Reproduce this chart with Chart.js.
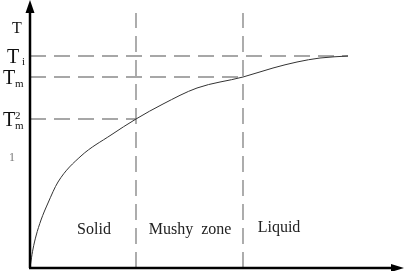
<!DOCTYPE html>
<html>
<head>
<meta charset="utf-8">
<script src="https://cdn.jsdelivr.net/npm/chart.js@4"></script>
<style>
  html, body { margin: 0; padding: 0; background: #fff; }
  canvas { display: block; }
</style>
</head>
<body>
<canvas id="c" width="405" height="271"></canvas>
<script>
// temperature curve (distance from left, temperature)
const curveX = [0, 1, 3, 6, 11, 18, 28, 51, 81, 106, 133, 167, 213, 243, 267, 290, 318];
const curveY = [0, 7, 19, 32, 48, 65, 86, 112, 133, 149, 164, 180, 191, 200, 206, 210, 212];

// temperature levels and where their dashed lines stop
const levelNames = ['Ti', 'Tm', 'T2m'];
const levelValues = [212, 191, 149];
const levelEnds = [318, 213, 106];

// zone boundaries and zone names
const boundaries = [106, 213];
const boundaryTop = 255;
const zoneNames = ['Solid', 'Mushy  zone', 'Liquid'];
const zoneCenters = [64, 160, 249];
const zoneLabelY = 38;

const xMax = 375, yMax = 268;

const dashStyle = { borderColor: '#8a8a8a', borderWidth: 1.4, borderDash: [16, 8], pointRadius: 0, fill: false };

const datasets = [{
  data: curveX.map((x, i) => ({ x, y: curveY[i] })),
  borderColor: '#333',
  borderWidth: 1,
  pointRadius: 0,
  cubicInterpolationMode: 'monotone',
  fill: false,
}];
levelValues.forEach((v, i) => {
  datasets.push(Object.assign({ data: [{ x: 0, y: v }, { x: levelEnds[i], y: v }] }, dashStyle));
});
boundaries.forEach(b => {
  datasets.push(Object.assign({ data: [{ x: b, y: 0 }, { x: b, y: boundaryTop }] }, dashStyle));
});

const decor = {
  id: 'decor',
  afterDatasetsDraw(chart) {
    const ctx = chart.ctx;
    const xs = chart.scales.x, ys = chart.scales.y;
    const x0 = xs.getPixelForValue(0), y0 = ys.getPixelForValue(0);
    ctx.save();
    // axes
    ctx.strokeStyle = '#000';
    ctx.fillStyle = '#000';
    ctx.lineWidth = 2.5;
    ctx.beginPath();
    ctx.moveTo(x0, y0); ctx.lineTo(x0, 10);
    ctx.moveTo(x0 - 1, y0); ctx.lineTo(393, y0);
    ctx.stroke();
    ctx.beginPath();
    ctx.moveTo(x0, 0); ctx.lineTo(x0 - 4.5, 13); ctx.lineTo(x0 + 4.5, 13); ctx.closePath();
    ctx.fill();
    ctx.beginPath();
    ctx.moveTo(404, y0); ctx.lineTo(391, y0 - 4); ctx.lineTo(391, y0 + 4); ctx.closePath();
    ctx.fill();

    // axis label
    ctx.fillStyle = '#111';
    ctx.textBaseline = 'alphabetic';
    ctx.textAlign = 'left';
    ctx.font = '16px "Liberation Serif", serif';
    ctx.fillText('T', 12, 33);

    // level labels
    levelValues.forEach((v, i) => {
      const py = ys.getPixelForValue(v);
      const base = py + 7;
      const tx = levelNames[i] === 'Ti' ? 7 : 3;
      ctx.font = '20px "Liberation Serif", serif';
      ctx.fillText('T', tx, base);
      ctx.font = '11px "Liberation Serif", serif';
      if (levelNames[i] === 'Ti') {
        ctx.fillText('i', tx + 15, base + 2);
      } else if (levelNames[i] === 'Tm') {
        ctx.fillText('m', tx + 12, base + 3);
      } else {
        ctx.fillText('2', tx + 12, base - 7);
        ctx.fillText('m', tx + 12, base + 3);
      }
    });
    ctx.fillStyle = '#777';
    ctx.font = '12px "Liberation Serif", serif';
    ctx.fillText('1', 9, 161);

    // zone names
    ctx.fillStyle = '#222';
    ctx.textAlign = 'center';
    ctx.textBaseline = 'middle';
    ctx.font = '16px "Liberation Serif", serif';
    zoneNames.forEach((n, i) => {
      const dy = i === 2 ? 2 : 0;
      ctx.fillText(n, xs.getPixelForValue(zoneCenters[i]), ys.getPixelForValue(zoneLabelY + dy));
    });
    ctx.restore();
  }
};

new Chart(document.getElementById('c'), {
  type: 'line',
  data: { datasets },
  options: {
    responsive: false,
    animation: false,
    layout: { padding: { left: 30, right: 0, top: 0, bottom: 3 } },
    plugins: { legend: { display: false }, tooltip: { enabled: false } },
    scales: {
      x: { type: 'linear', min: 0, max: xMax, display: false },
      y: { type: 'linear', min: 0, max: yMax, display: false }
    }
  },
  plugins: [decor]
});
</script>
</body>
</html>
